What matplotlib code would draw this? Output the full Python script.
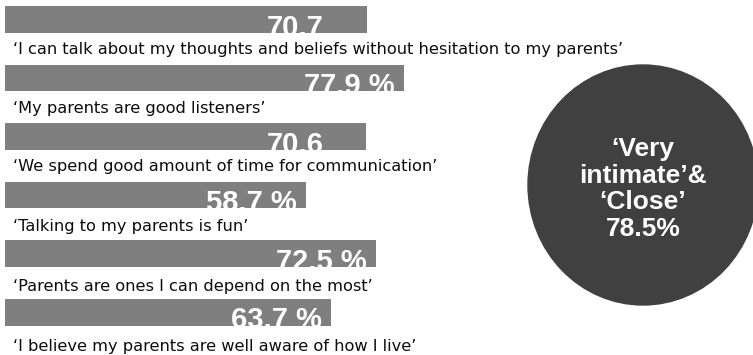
import matplotlib
matplotlib.use("Agg")
import matplotlib.pyplot as plt
from matplotlib.patches import Ellipse, Rectangle

# survey items, top to bottom
captions = [
    "\u2018I can talk about my thoughts and beliefs without hesitation to my parents\u2019",
    "\u2018My parents are good listeners\u2019",
    "\u2018We spend good amount of time for communication\u2019",
    "\u2018Talking to my parents is fun\u2019",
    "\u2018Parents are ones I can depend on the most\u2019",
    "\u2018I believe my parents are well aware of how I live\u2019",
]
values = [70.7, 77.9, 70.6, 58.7, 72.5, 63.7]
value_labels = ["70.7", "77.9 %", "70.6", "58.7 %", "72.5 %", "63.7 %"]
summary_text = "\u2018Very\nintimate\u2019&\n\u2018Close\u2019\n78.5%"

W, H = 753, 355
PX_PER_PCT = 5.12
BAR_LEFT = 5
BAR_COLOR = "#7f7f7f"
CIRCLE_COLOR = "#404040"

# text boxes of some captions are too short and cut the descenders
caption_cut = {2: 1, 3: 1, 4: 3}

fig = plt.figure(figsize=(W / 100, H / 100), dpi=100)

# bars in percent units (x), pixel rows (y)
ax = fig.add_axes([0, 0, 1, 1])
ax.set_xlim(-BAR_LEFT / PX_PER_PCT, (W - BAR_LEFT) / PX_PER_PCT)
ax.set_ylim(H, 0)
ax.axis("off")

# overlay in plain pixel coordinates for text and the circle
pix = fig.add_axes([0, 0, 1, 1], facecolor="none")
pix.set_xlim(0, W)
pix.set_ylim(H, 0)
pix.axis("off")

row_step = 58.6
bar_h = 26.5
for i, (v, lab, cap) in enumerate(zip(values, value_labels, captions)):
    top = 6 + i * row_step
    bars = ax.barh(top + bar_h / 2, v, height=bar_h, left=0, color=BAR_COLOR)
    rect = bars[0]

    # value label sits low in the bar and gets cut off at its bottom edge
    end_px = BAR_LEFT + v * PX_PER_PCT
    t = pix.text(end_px - 100, top + bar_h + 3, lab, color="white",
                 fontsize=21, fontweight="bold", family="Liberation Sans",
                 ha="left", va="baseline")
    t.set_clip_path(rect)

    base = top + 48 + max(0, i - 2) * 1.5
    c = pix.text(13, base, cap, color="#0d0d0d",
                 fontsize=11.7, family="DejaVu Sans", ha="left", va="baseline")
    if i in caption_cut:
        box = Rectangle((0, base - 30), W, 30 + caption_cut[i],
                        transform=pix.transData, visible=False)
        pix.add_patch(box)
        c.set_clip_path(box)

circle = Ellipse((643, 185), 230, 240, color=CIRCLE_COLOR)
pix.add_patch(circle)
pix.text(643, 189, summary_text, color="white", fontsize=19,
         fontweight="bold", family="Liberation Sans", ha="center",
         va="center", linespacing=1.15)

fig.savefig("out.png", dpi=100)
